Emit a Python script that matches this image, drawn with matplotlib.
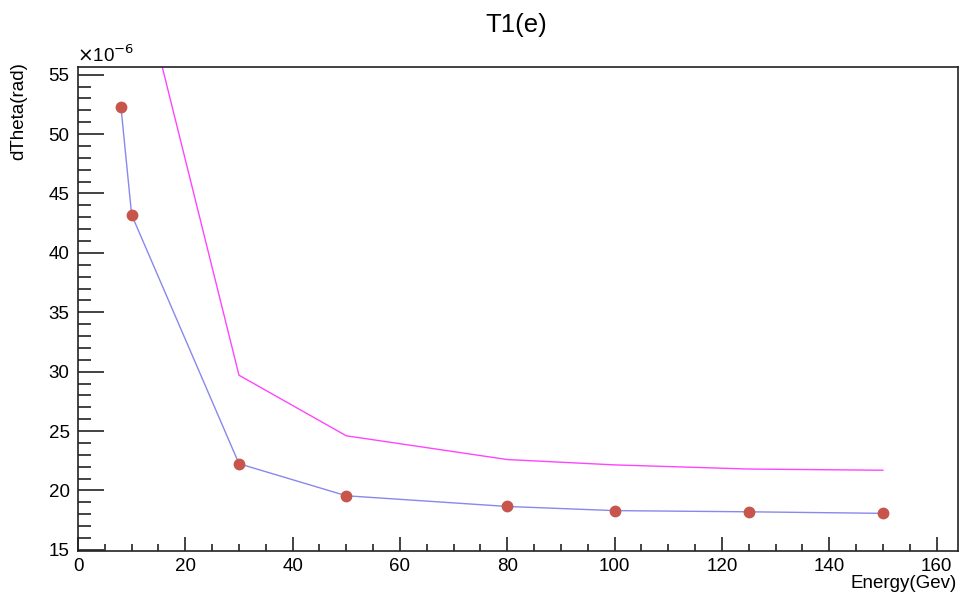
import numpy as np
import matplotlib
matplotlib.use("Agg")
import matplotlib.pyplot as plt
from matplotlib.ticker import MultipleLocator, FuncFormatter

# energy points (GeV)
energy = [8, 10, 30, 50, 80, 100, 125, 150]
# measured dTheta, units of 1e-6 rad
dtheta_meas = [52.3, 43.2, 22.25, 19.55, 18.65, 18.3, 18.2, 18.07]
# reference curve, units of 1e-6 rad (first two points are above the frame)
dtheta_ref = [80.0, 66.0, 29.7, 24.6, 22.6, 22.15, 21.8, 21.7]

plt.rcParams['font.family'] = ['Liberation Sans', 'DejaVu Sans']

fig = plt.figure(figsize=(9.6, 5.95), dpi=100)
ax = fig.add_axes([78/960, 1-551/595, 880/960, 484/595])

yMeas = np.array(dtheta_meas) * 1e-6
yRef = np.array(dtheta_ref) * 1e-6

ax.plot(energy, yRef, color='#ff44ff', linewidth=1.0, zorder=2)
ax.plot(energy, yMeas, color='#8888ee', linewidth=1.0, zorder=2)
ax.plot(energy, yMeas, 'o', color='#c8554c', markersize=8.5, markeredgewidth=0, zorder=3)

ax.set_xlim(0, 164)
ax.set_ylim(14.9e-6, 55.65e-6)

ax.xaxis.set_major_locator(MultipleLocator(20))
ax.xaxis.set_minor_locator(MultipleLocator(5))
ax.yaxis.set_major_locator(MultipleLocator(5e-6))
ax.yaxis.set_minor_locator(MultipleLocator(1e-6))
ax.yaxis.set_major_formatter(FuncFormatter(lambda v, p: "%d" % round(v * 1e6)))

ax.tick_params(axis='both', which='both', direction='in', labelsize=13.5, width=1.2, color='#222222')
ax.tick_params(axis='y', which='major', length=19, pad=6)
ax.tick_params(axis='y', which='minor', length=9.5)
ax.tick_params(axis='x', which='major', length=10, pad=5)
ax.tick_params(axis='x', which='minor', length=5)

for s in ax.spines.values():
    s.set_linewidth(1.2)
    s.set_color('#222222')

fig.text(516/960, 1-25/595, 'T1(e)', ha='center', va='center', fontsize=18.5)
fig.text(19/960, 1-62/595, 'dTheta(rad)', rotation=90, ha='center', va='top', fontsize=13.5)
fig.text(957/960, 1-584/595, 'Energy(Gev)', ha='right', va='center', fontsize=13.5)
fig.text(77/960, 1-55/595, r'$\times$10$^{-6}$', ha='left', va='center', fontsize=13.5)

fig.savefig('out.png', dpi=100)
